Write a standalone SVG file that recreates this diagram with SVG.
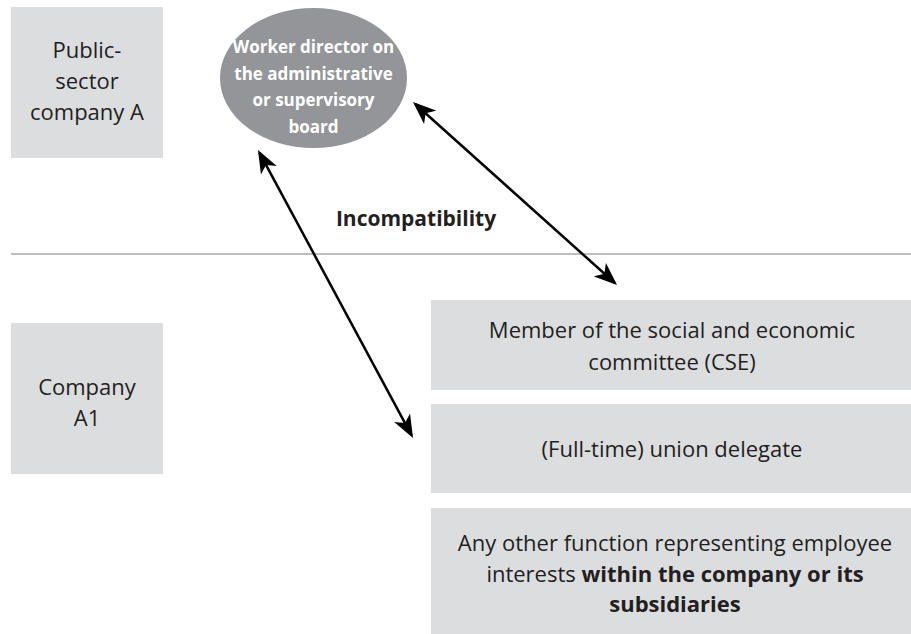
<svg xmlns="http://www.w3.org/2000/svg" width="911" height="634" viewBox="0 0 911 634">
<style>
.box{fill:#dcdddf}
.t{font-family:"Open Sans","Noto Sans",sans-serif;font-size:22px;fill:#231f20;text-anchor:middle}
.b{font-weight:bold}
.w{font-family:"Open Sans","Noto Sans",sans-serif;font-size:17px;font-weight:bold;fill:#ffffff;text-anchor:middle}
.arr{stroke:#000;stroke-width:2.5;fill:none;marker-start:url(#ah);marker-end:url(#ah)}
</style>
<defs>
<marker id="ah" markerUnits="userSpaceOnUse" markerWidth="26" markerHeight="18" refX="20" refY="9" orient="auto-start-reverse" viewBox="0 0 26 18">
<path d="M0,0 L23,9 L0,18 L6,9 z" fill="#000"/>
</marker>
</defs>
<rect width="911" height="634" fill="#fff"/>
<line x1="11" y1="254" x2="911" y2="254" stroke="#a7a9ac" stroke-width="1.5"/>
<g id="companyA">
<rect class="box" x="11" y="7" width="152" height="151"/>
<text class="t" x="87" y="58">Public-</text>
<text class="t" x="87" y="89">sector</text>
<text class="t" x="87" y="120">company A</text>
</g>
<g id="workerDirector">
<ellipse cx="313.5" cy="78" rx="93.5" ry="70" fill="#939598"/>
<text class="w" x="313.5" y="53">Worker director on</text>
<text class="w" x="313.5" y="79.5">the administrative</text>
<text class="w" x="313.5" y="106">or supervisory</text>
<text class="w" x="313.5" y="132.5">board</text>
</g>
<g id="incompatibility">
<text class="t b" x="416" y="226" style="font-size:21px">Incompatibility</text>
</g>
<g id="companyA1">
<rect class="box" x="11" y="323" width="152" height="151"/>
<text class="t" x="87" y="395">Company</text>
<text class="t" x="87" y="426">A1</text>
</g>
<g id="cse">
<rect class="box" x="431" y="300" width="480" height="90"/>
<text class="t" x="672" y="338">Member of the social and economic</text>
<text class="t" x="672" y="370">committee (CSE)</text>
</g>
<g id="union">
<rect class="box" x="431" y="404" width="480" height="89"/>
<text class="t" x="672" y="457">(Full-time) union delegate</text>
</g>
<g id="other">
<rect class="box" x="431" y="508" width="480" height="126"/>
<text class="t" x="675" y="551">Any other function representing employee</text>
<text class="t" x="675" y="582">interests <tspan class="b">within the company or its</tspan></text>
<text class="t b" x="675" y="612">subsidiaries</text>
</g>
<g id="connectors">
<line class="arr" x1="259.4" y1="152.6" x2="411.6" y2="435.4"/>
<line class="arr" x1="415.2" y1="104" x2="614.8" y2="283"/>
</g>
</svg>
